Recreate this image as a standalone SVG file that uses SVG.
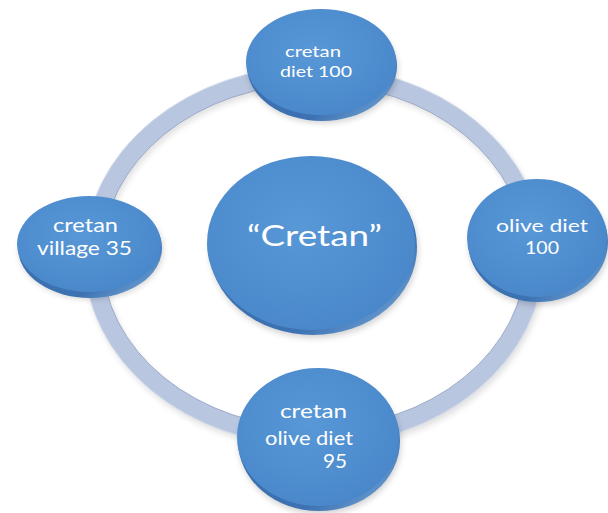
<svg xmlns="http://www.w3.org/2000/svg" width="608" height="513" viewBox="0 0 608 513">
<defs>
<radialGradient id="face" cx="0.45" cy="0.4" r="0.7">
<stop offset="0" stop-color="#5898d7"/>
<stop offset="1" stop-color="#4785c8"/>
</radialGradient>
<linearGradient id="rim" x1="0" y1="0" x2="1" y2="1">
<stop offset="0" stop-color="#3b6fae"/>
<stop offset="0.7" stop-color="#3c72b2"/>
<stop offset="1" stop-color="#7fb0e0"/>
</linearGradient>
<filter id="soft" x="-20%" y="-20%" width="140%" height="140%">
<feGaussianBlur stdDeviation="3"/>
</filter>
</defs>
<style>
.shadow{fill:#000;opacity:0.18;filter:url(#soft)}
.rim{fill:url(#rim)}
.face{fill:url(#face)}
.t{font-family:Lato,"Open Sans","Liberation Sans",sans-serif;fill:#ffffff}
</style>
<rect width="608" height="513" fill="#ffffff"/>
<g id="connectors">
<ellipse cx="316" cy="260" rx="221" ry="181" fill="none" stroke="#000" stroke-width="18" opacity="0.12" filter="url(#soft)"/>
<ellipse cx="314" cy="256" rx="221" ry="181" fill="none" stroke="#b8c6df" stroke-width="18"/>
<ellipse cx="314" cy="256" rx="230" ry="190" fill="none" stroke="#d3dcec" stroke-width="1"/>
<ellipse cx="314" cy="256" rx="212" ry="172" fill="none" stroke="#9aabc8" stroke-width="1"/>
</g>
<g id="node-center">
<ellipse class="shadow" cx="314" cy="250" rx="104" ry="88"/>
<ellipse class="rim" cx="313" cy="247" rx="104" ry="88"/>
<ellipse class="face" cx="311" cy="243" rx="104" ry="87"/>
<text class="t" x="247" y="246" font-size="28" textLength="135" lengthAdjust="spacingAndGlyphs">“Cretan”</text>
</g>
<g id="node-top">
<ellipse class="shadow" cx="323" cy="69" rx="75" ry="54"/>
<ellipse class="rim" cx="322" cy="66" rx="75" ry="55"/>
<ellipse class="face" cx="321" cy="62" rx="75" ry="53"/>
<text class="t" x="285" y="57" font-size="16" textLength="56" lengthAdjust="spacingAndGlyphs">cretan</text>
<text class="t" x="280" y="77" font-size="16" textLength="72" lengthAdjust="spacingAndGlyphs">diet 100</text>
</g>
<g id="node-left">
<ellipse class="shadow" cx="91" cy="250" rx="72" ry="49"/>
<ellipse class="rim" cx="90" cy="248" rx="72" ry="50"/>
<ellipse class="face" cx="89" cy="244" rx="72" ry="48"/>
<text class="t" x="53" y="232" font-size="19" textLength="65" lengthAdjust="spacingAndGlyphs">cretan</text>
<text class="t" x="37" y="255" font-size="19" textLength="95" lengthAdjust="spacingAndGlyphs">village 35</text>
</g>
<g id="node-right">
<ellipse class="shadow" cx="539" cy="245" rx="70" ry="60"/>
<ellipse class="rim" cx="538" cy="242" rx="70" ry="60"/>
<ellipse class="face" cx="537" cy="238" rx="70" ry="59"/>
<text class="t" x="496" y="232" font-size="18" textLength="92" lengthAdjust="spacingAndGlyphs">olive diet</text>
<text class="t" x="542" y="254" font-size="18" text-anchor="middle" textLength="34" lengthAdjust="spacingAndGlyphs">100</text>
</g>
<g id="node-bottom">
<ellipse class="shadow" cx="320" cy="444" rx="81" ry="70"/>
<ellipse class="rim" cx="319" cy="441" rx="81" ry="70"/>
<ellipse class="face" cx="318" cy="437" rx="81" ry="69"/>
<text class="t" x="280" y="418" font-size="19" textLength="67" lengthAdjust="spacingAndGlyphs">cretan</text>
<text class="t" x="265" y="445" font-size="19" textLength="88" lengthAdjust="spacingAndGlyphs">olive diet</text>
<text class="t" x="323" y="468" font-size="19" textLength="24" lengthAdjust="spacingAndGlyphs">95</text>
</g>
</svg>
